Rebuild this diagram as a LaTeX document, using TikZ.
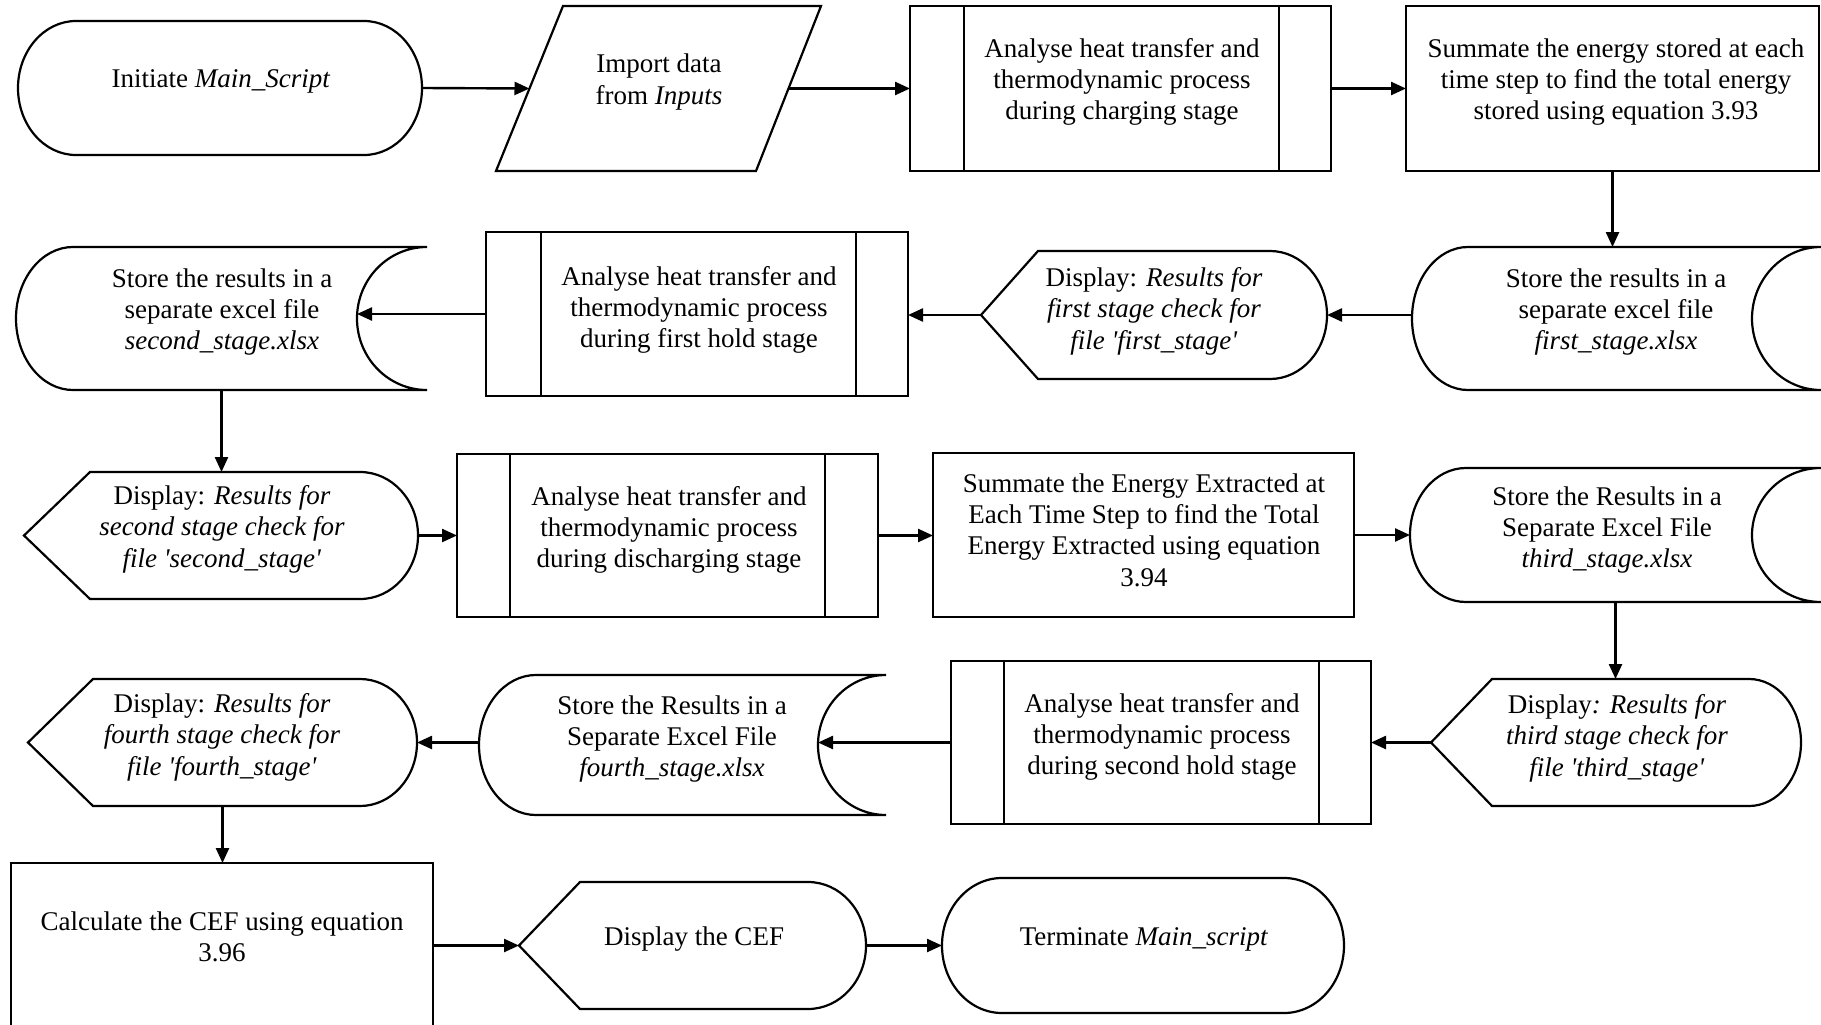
\documentclass[tikz,border=0pt]{standalone}
\usepackage{fontspec}
\setmainfont{Liberation Serif}
\usetikzlibrary{arrows.meta}

\tikzset{
  outline/.style={line width=2.2pt, line join=miter},
  frame/.style={draw=none, inner sep=0pt, outer sep=0pt},
  txt/.style={align=center, inner sep=0pt, font=\fontsize{27}{31.4}\selectfont},
  flow/.style={line width=2.4pt, -{Triangle[length=15pt,width=13pt]}},
}

% invisible box spanning a symbol, used for anchors
\newcommand\FrameNode[5]{%
  \node[frame, minimum width={#4-#2}, minimum height={#5-#3}] (#1) at ({(#2+#4)/2},{(#3+#5)/2}) {};}

% common helper values for the curved outlines
\newcommand\ShapeVals[4]{% T B rx cx
  \pgfmathsetmacro\shRY{(#2-#1)/2}%
  \pgfmathsetmacro\shMY{(#1+#2)/2}%
  \pgfmathsetmacro\shKY{0.5523*\shRY}%
  \pgfmathsetmacro\shKX{0.5523*#3}%
  \pgfmathsetmacro\shKC{0.5523*#4}}

% terminator: name L T R B rx
\newcommand\TermShape[6]{%
  \FrameNode{#1}{#2}{#3}{#4}{#5}
  \ShapeVals{#3}{#5}{#6}{#6}
  \draw[outline] ({#2+#6},#3) -- ({#4-#6},#3)
    .. controls ({#4-#6+\shKX},#3) and (#4,{\shMY-\shKY}) .. (#4,\shMY)
    .. controls (#4,{\shMY+\shKY}) and ({#4-#6+\shKX},#5) .. ({#4-#6},#5)
    -- ({#2+#6},#5)
    .. controls ({#2+#6-\shKX},#5) and (#2,{\shMY+\shKY}) .. (#2,\shMY)
    .. controls (#2,{\shMY-\shKY}) and ({#2+#6-\shKX},#3) .. ({#2+#6},#3) -- cycle;}

% display: name L T R B point-offset arc-depth
\newcommand\DispShape[7]{%
  \FrameNode{#1}{#2}{#3}{#4}{#5}
  \ShapeVals{#3}{#5}{#7}{#7}
  \draw[outline] (#2,\shMY) -- ({#2+#6},#3) -- ({#4-#7},#3)
    .. controls ({#4-#7+\shKX},#3) and (#4,{\shMY-\shKY}) .. (#4,\shMY)
    .. controls (#4,{\shMY+\shKY}) and ({#4-#7+\shKX},#5) .. ({#4-#7},#5)
    -- ({#2+#6},#5) -- cycle;}

% stored data: name L T R B left-depth right-depth
\newcommand\StoreShape[7]{%
  \FrameNode{#1}{#2}{#3}{#4}{#5}
  \ShapeVals{#3}{#5}{#6}{#7}
  \draw[outline] ({#2+#6},#3) -- (#4,#3)
    .. controls ({#4-\shKC},#3) and ({#4-#7},{\shMY-\shKY}) .. ({#4-#7},\shMY)
    .. controls ({#4-#7},{\shMY+\shKY}) and ({#4-\shKC},#5) .. (#4,#5)
    -- ({#2+#6},#5)
    .. controls ({#2+#6-\shKX},#5) and (#2,{\shMY+\shKY}) .. (#2,\shMY)
    .. controls (#2,{\shMY-\shKY}) and ({#2+#6-\shKX},#3) .. ({#2+#6},#3) -- cycle;
  \coordinate (#1-in) at ({#4-#7},\shMY);}

% predefined process: name L T R B inner-left inner-right
\newcommand\PredefShape[7]{%
  \FrameNode{#1}{#2}{#3}{#4}{#5}
  \draw[outline] (#2,#3) rectangle (#4,#5);
  \draw[outline] (#6,#3) -- (#6,#5) (#7,#3) -- (#7,#5);}

% process: name L T R B
\newcommand\ProcShape[5]{%
  \FrameNode{#1}{#2}{#3}{#4}{#5}
  \draw[outline] (#2,#3) rectangle (#4,#5);}

\newcommand\q{\textquotesingle}

\begin{document}
\begin{tikzpicture}[x=1pt,y=-1pt]
\fill[white] (0,0) rectangle (1821,1025);
\useasboundingbox (0,0) rectangle (1821,1025);

% ---- row 1
\TermShape{term1}{18}{21}{422}{155}{58}
\node[txt] (term1-t) at (221,81) {Initiate \textit{Main\_Script}};

\FrameNode{para}{496}{6}{821}{171}
\draw[outline] (563,6) -- (821,6) -- (756,171) -- (496,171) -- cycle;
\coordinate (para-in) at (529.5,88.5);
\coordinate (para-out) at (788.5,88.5);
\node[txt] (para-t) at (659,82) {Import data\\from \textit{Inputs}};

\PredefShape{pre1}{910}{6}{1331}{171}{964}{1279}
\node[txt] (pre1-t) at (1122,82) {Analyse heat transfer and\\thermodynamic process\\during charging stage};

\ProcShape{proc1}{1406}{6}{1819}{171}
\node[txt] (proc1-t) at (1616,82) {Summate the energy stored at each\\time step to find the total energy\\stored using equation 3.93};

% ---- row 2
\StoreShape{sd1}{1412}{247}{1821}{390}{56}{69}
\node[txt] (sd1-t) at (1616,312) {Store the results in a\\separate excel file\\\textit{first\_stage.xlsx}};

\DispShape{disp1}{981}{251}{1327}{379}{57}{57}
\node[txt] (disp1-t) at (1154,311) {Display: \textit{Results for}\\\textit{first stage check for}\\\textit{file \q first\_stage\q}};

\PredefShape{pre2}{486}{232}{908}{396}{541}{856}
\node[txt] (pre2-t) at (699,310) {Analyse heat transfer and\\thermodynamic process\\during first hold stage};

\StoreShape{sd2}{16}{247}{427}{390}{57}{70}
\node[txt] (sd2-t) at (222,312) {Store the results in a\\separate excel file\\\textit{second\_stage.xlsx}};

% ---- row 3
\DispShape{disp2}{24}{472}{418}{599}{66}{58}
\node[txt] (disp2-t) at (222,529) {Display: \textit{Results for}\\\textit{second stage check for}\\\textit{file \q second\_stage\q}};

\PredefShape{pre3}{457}{454}{878}{617}{510}{825}
\node[txt] (pre3-t) at (669,530) {Analyse heat transfer and\\thermodynamic process\\during discharging stage};

\ProcShape{proc2}{933}{453}{1354}{617}
\node[txt] (proc2-t) at (1144,530) {Summate the Energy Extracted at\\Each Time Step to find the Total\\Energy Extracted using equation\\3.94};

\StoreShape{sd3}{1410}{468}{1821}{602}{56}{69}
\node[txt] (sd3-t) at (1607,530) {Store the Results in a\\Separate Excel File\\\textit{third\_stage.xlsx}};

% ---- row 4
\DispShape{disp3}{1431}{679}{1801}{806}{61}{52}
\node[txt] (disp3-t) at (1617,738) {Display\textit{: Results for}\\\textit{third stage check for}\\\textit{file \q third\_stage\q}};

\PredefShape{pre4}{951}{661}{1371}{824}{1004}{1319}
\node[txt] (pre4-t) at (1162,737) {Analyse heat transfer and\\thermodynamic process\\during second hold stage};

\StoreShape{sd4}{479}{675}{886}{815}{57}{68}
\node[txt] (sd4-t) at (672,739) {Store the Results in a\\Separate Excel File\\\textit{fourth\_stage.xlsx}};

\DispShape{disp4}{28}{679}{417}{806}{65}{57}
\node[txt] (disp4-t) at (222,737) {Display: \textit{Results for}\\\textit{fourth stage check for}\\\textit{file \q fourth\_stage\q}};

% ---- row 5
\ProcShape{proc3}{11}{863}{433}{1030}
\node[txt] (proc3-t) at (222,937) {Calculate the CEF using equation\\3.96};

\DispShape{disp5}{519}{882}{866}{1009}{61}{58}
\node[txt] (disp5-t) at (694,939) {Display the CEF};

\TermShape{term2}{942}{878}{1344}{1013}{60}
\node[txt] (term2-t) at (1144,939) {Terminate \textit{Main\_script}};

% ---- connectors
\draw[flow] (term1.east) -- (para-in);
\draw[flow] (para-out) -- (pre1.west);
\draw[flow] (pre1.east) -- (proc1.west);
\draw[flow] (proc1.south) -- (proc1.south |- sd1.north);
\draw[flow] (sd1.west |- disp1.east) -- (disp1.east);
\draw[flow] (disp1.west) -- (disp1.west -| pre2.east);
\draw[flow] (pre2.west) -- (pre2.west -| sd2-in);
\draw[flow] (sd2.south) -- (sd2.south |- disp2.north);
\draw[flow] (disp2.east) -- (disp2.east -| pre3.west);
\draw[flow] (pre3.east) -- (pre3.east -| proc2.west);
\draw[flow] (proc2.east) -- (proc2.east -| sd3.west);
\draw[flow] (sd3.south) -- (sd3.south |- disp3.north);
\draw[flow] (disp3.west) -- (disp3.west -| pre4.east);
\draw[flow] (pre4.west) -- (pre4.west -| sd4-in);
\draw[flow] (sd4.west |- disp4.east) -- (disp4.east);
\draw[flow] (disp4.south) -- (disp4.south |- proc3.north);
\draw[flow] (proc3.east |- disp5.west) -- (disp5.west);
\draw[flow] (disp5.east) -- (disp5.east -| term2.west);
\end{tikzpicture}
\end{document}
